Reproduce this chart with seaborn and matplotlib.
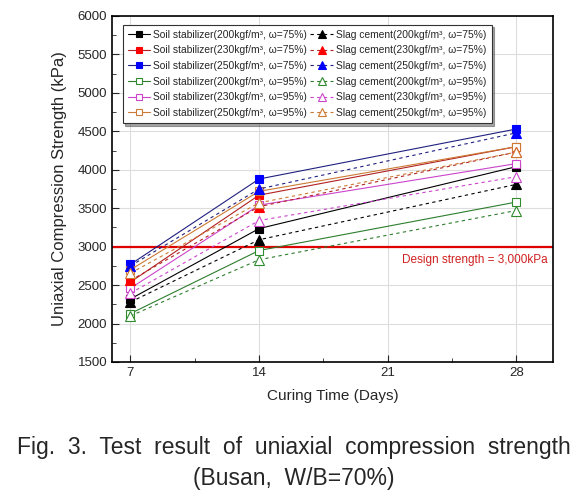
import matplotlib
matplotlib.use("Agg")
import matplotlib.pyplot as plt
import seaborn as sns
import pandas as pd

# 데이터
days = [7, 14, 28]
mix_labels = ["200kgf/m³, ω=75%", "230kgf/m³, ω=75%", "250kgf/m³, ω=75%",
              "200kgf/m³, ω=95%", "230kgf/m³, ω=95%", "250kgf/m³, ω=95%"]
colors = ["#000000", "#FF0000", "#0000FF", "#2E8B2E", "#CC44CC", "#CC7A33"]
line_colors = ["#000000", "#B22222", "#202080", "#2E7D2E", "#CC44CC", "#CC7A33"]
filled = [True, True, True, False, False, False]

soil = [
    [2320, 3235, 4040],
    [2540, 3670, 4300],
    [2770, 3880, 4530],
    [2130, 2950, 3580],
    [2460, 3540, 4080],
    [2700, 3720, 4300],
]
slag = [
    [2280, 3090, 3810],
    [2560, 3520, 4230],
    [2750, 3750, 4480],
    [2100, 2830, 3470],
    [2395, 3340, 3910],
    [2655, 3570, 4230],
]
design_strength = 3000

sns.set_style("ticks")
plt.rcParams['font.family'] = ['Liberation Sans', 'DejaVu Sans']

fig = plt.figure(figsize=(5.87, 5.00), dpi=100)
ax = fig.add_axes([0.191, 0.276, 0.751, 0.692])

for i in range(6):
    fc = colors[i] if filled[i] else "white"
    df = pd.DataFrame({"day": days, "val": soil[i]})
    sns.lineplot(data=df, x="day", y="val", ax=ax, color=line_colors[i], lw=0.8,
                 marker="s", markersize=5.5, markerfacecolor=fc, markeredgecolor=colors[i],
                 markeredgewidth=0.8, label="Soil stabilizer(" + mix_labels[i] + ")", zorder=3)
for i in range(6):
    fc = colors[i] if filled[i] else "white"
    df = pd.DataFrame({"day": days, "val": slag[i]})
    sns.lineplot(data=df, x="day", y="val", ax=ax, color=line_colors[i], lw=0.8,
                 linestyle=(0, (3, 3)), marker="^", markersize=6.5, markerfacecolor=fc,
                 markeredgecolor=colors[i], markeredgewidth=0.8,
                 label="Slag cement(" + mix_labels[i] + ")", zorder=3)

ax.axhline(design_strength, color="#E00000", lw=1.6, zorder=2)
ax.text(29.7, 2830, "Design strength = 3,000kPa", color="#D02020", fontsize=8.5,
        ha="right", va="center")

ax.set_xlim(6, 30)
ax.set_ylim(1500, 6000)
ax.set_xticks([7, 14, 21, 28])
ax.set_xticks([10.5, 17.5, 24.5], minor=True)
ax.set_yticks(range(1500, 6001, 500))
ax.set_yticks(range(1750, 6000, 500), minor=True)
ax.tick_params(which="both", direction="in", labelsize=9.5)
ax.tick_params(which="major", length=5)
ax.tick_params(which="minor", length=3)
ax.grid(True, which="major", color="#DDDDDD", lw=0.8, zorder=0)
for s in ax.spines.values():
    s.set_linewidth(1.2)
    s.set_color("black")

ax.set_xlabel("Curing Time (Days)", fontsize=11, labelpad=7)
ax.set_ylabel("Uniaxial Compression Strength (kPa)", fontsize=12, labelpad=8)

leg = ax.legend(ncol=2, loc="upper left", bbox_to_anchor=(0.012, 0.99), fontsize=7.4,
                frameon=True, fancybox=False, shadow=True, edgecolor="#333333",
                handlelength=2.2, handletextpad=0.3, columnspacing=0.3,
                labelspacing=0.55, borderpad=0.5, markerscale=0.9)
leg.get_frame().set_linewidth(0.8)

fig.text(0.5, 0.105, "Fig.  3.  Test  result  of  uniaxial  compression  strength",
         ha="center", va="center", fontsize=16.5)
fig.text(0.5, 0.043, "(Busan,  W/B=70%)", ha="center", va="center", fontsize=16.5)

fig.savefig("out.png", dpi=100)
